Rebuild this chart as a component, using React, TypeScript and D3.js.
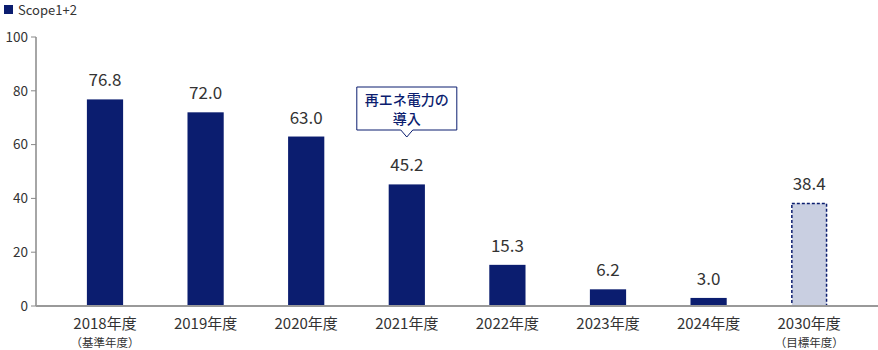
import React from "react";
import * as d3 from "d3";

const categories = ["2018年度", "2019年度", "2020年度", "2021年度", "2022年度", "2023年度", "2024年度", "2030年度"];
const subLabels = ["（基準年度）", "", "", "", "", "", "", "（目標年度）"];
const values = [76.8, 72.0, 63.0, 45.2, 15.3, 6.2, 3.0, 38.4];
const isTarget = [false, false, false, false, false, false, false, true];
const yTicks = [0, 20, 40, 60, 80, 100];
const legendLabel = "Scope1+2";
const calloutLines = ["再エネ電力の", "導入"];
const calloutIndex = 3;

const W = 878;
const H = 350;
const FONT = "'Noto Sans CJK JP', 'Noto Sans', sans-serif";
const NAVY = "#0b1d6f";

export default function App() {
  const x = d3.scaleBand<string>().domain(categories).range([54.7, 859.5]).paddingInner(0.64).paddingOuter(0.32);
  const y = d3.scaleLinear().domain([0, 100]).range([306, 37]);
  const axisX = 36;
  const cx = (x(categories[calloutIndex]) as number) + x.bandwidth() / 2;
  const calloutBottom = 130;
  return (
    <svg width={W} height={H} style={{ position: "absolute", left: 0, top: 0, fontFamily: FONT }}>
      <rect x={4} y={5} width={9} height={9} fill={NAVY} />
      <text x={18} y={14.5} fontSize={13} fill="#333">{legendLabel}</text>
      {yTicks.map((t) => (
        <g key={t}>
          <line x1={axisX - 5} x2={axisX} y1={y(t)} y2={y(t)} stroke="#888" />
          <text x={axisX - 8} y={y(t)} dy="0.35em" textAnchor="end" fontSize={13.5} fill="#333">{t}</text>
        </g>
      ))}
      <line x1={axisX} x2={axisX} y1={y(100)} y2={y(0)} stroke="#888" strokeWidth={1.5} />
      {categories.map((c, i) => {
        const bx = x(c) as number;
        const bw = x.bandwidth();
        const top = y(values[i]);
        const mid = bx + bw / 2;
        return (
          <g key={c}>
            {isTarget[i] ? (
              <rect x={bx + 0.75} y={top + 0.75} width={bw - 1.5} height={y(0) - top - 0.75} fill="#c9cfe1" stroke={NAVY} strokeWidth={1.5} strokeDasharray="3 2" />
            ) : (
              <rect x={bx} y={top} width={bw} height={y(0) - top} fill={NAVY} />
            )}
            <text x={mid} y={top - 13} textAnchor="middle" fontSize={17} fill="#333">{values[i].toFixed(1)}</text>
            <text x={mid} y={328.5} textAnchor="middle" fontSize={15} fill="#333">{c}</text>
            {subLabels[i] && (
              <text x={mid} y={346.5} textAnchor="middle" fontSize={11.5} fill="#333">{subLabels[i]}</text>
            )}
          </g>
        );
      })}
      <line x1={axisX} x2={W} y1={y(0)} y2={y(0)} stroke="#999" strokeWidth={2} />
      <path
        d={`M${cx - 50},87 H${cx + 50} V${calloutBottom} H${cx + 6} L${cx},${calloutBottom + 7} L${cx - 6},${calloutBottom} H${cx - 50} Z`}
        fill="#fff"
        stroke={NAVY}
        strokeWidth={1}
      />
      {calloutLines.map((l, k) => (
        <text key={k} x={cx} y={105 + k * 19} textAnchor="middle" fontSize={14} fontWeight={500} fill={NAVY}>{l}</text>
      ))}
    </svg>
  );
}
